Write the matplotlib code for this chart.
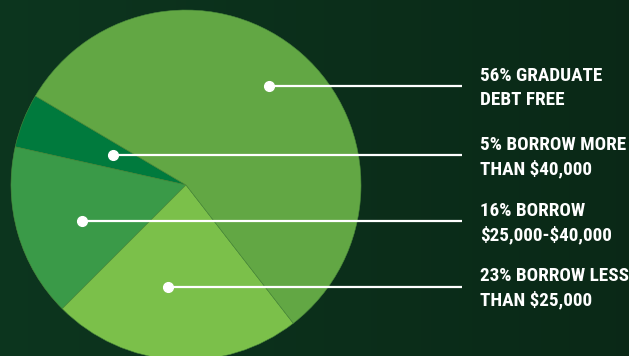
import matplotlib
matplotlib.use("Agg")
import matplotlib.pyplot as plt
import numpy as np
from matplotlib import font_manager

# ---- data ----
shares = [5, 16, 23, 56]
labels = ["5% BORROW MORE\nTHAN \\$40,000",
          "16% BORROW\n\\$25,000-\\$40,000",
          "23% BORROW LESS\nTHAN \\$25,000",
          "56% GRADUATE\nDEBT FREE"]
colors = ["#007A3D", "#3A9A48", "#7BC04A", "#62A744"]

# style: marker dot placement (fraction of radius, angle offset from wedge middle)
dot_r = [0.45, 0.63, 0.59, 0.74]
dot_dang = [-0.7, 2.9, -6.4, 1.4]

W, H = 629, 356
fig = plt.figure(figsize=(W / 100, H / 100), dpi=100)
ax = fig.add_axes([0, 0, 1, 1])

# background
bg = np.array([[0.05, 0.21, 0.12], [0.04, 0.16, 0.09]])
grad = np.linspace(0, 1, 200)
img = (bg[0][None, :] * (1 - grad[:, None]) + bg[1][None, :] * grad[:, None])[None, :, :]
ax.imshow(img, extent=[0, W, 0, H], aspect="auto", zorder=0)

cx, cy, R = 186, H - 185, 175
start = 149.4
wedges, _ = ax.pie(shares, colors=colors, startangle=start, counterclock=True,
                   radius=R, center=(cx, cy), frame=True,
                   wedgeprops=dict(linewidth=0.4, edgecolor="#4a8a3a"))
ax.set_xlim(0, W)
ax.set_ylim(0, H)
ax.set_aspect("equal")
ax.axis("off")

avail = {f.name for f in font_manager.fontManager.ttflist}
fam = "DejaVu Sans"
for cand in ["Roboto Condensed", "Liberation Sans Narrow", "Roboto"]:
    if cand in avail:
        fam = cand
        break

line_end = 462
text_x = 480
for w, r, da, lab in zip(wedges, dot_r, dot_dang, labels):
    mid = np.deg2rad((w.theta1 + w.theta2) / 2 + da)
    x = cx + r * R * np.cos(mid)
    y = cy + r * R * np.sin(mid)
    ax.plot([x, line_end], [y, y], color="white", lw=1.6, zorder=5, solid_capstyle="butt")
    ax.plot([x], [y], "o", color="white", ms=7, zorder=6)
    ax.text(text_x, y - 2, lab, color="white", fontsize=13.8, fontweight="bold",
            family=[fam, "DejaVu Sans"], va="center", ha="left", linespacing=1.4, zorder=7)

fig.savefig("out.png", dpi=100, facecolor="#0d3020")
